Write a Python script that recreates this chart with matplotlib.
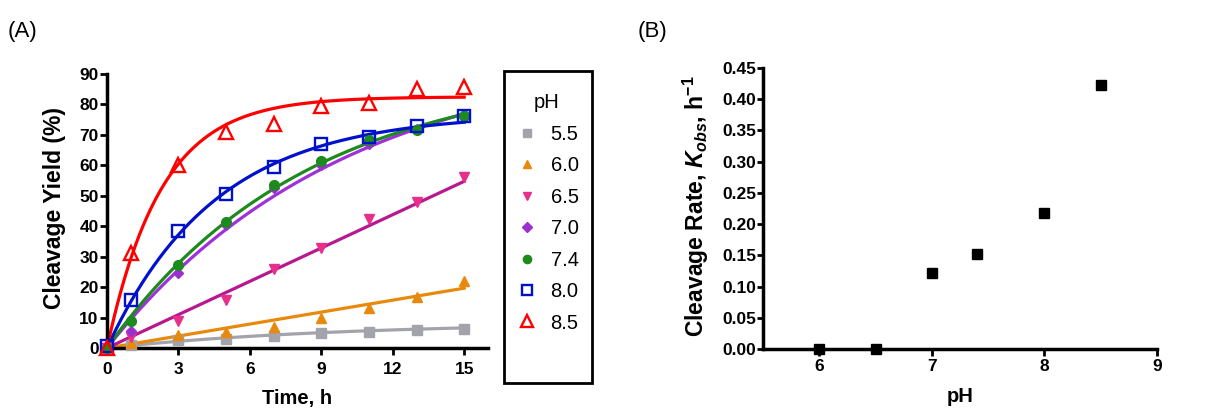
import numpy as np
import matplotlib
matplotlib.use("Agg")
import matplotlib.pyplot as plt
from matplotlib.patches import Rectangle

plt.rcParams['font.family'] = ['Liberation Sans', 'DejaVu Sans']
plt.rcParams['mathtext.fontset'] = 'custom'
plt.rcParams['mathtext.rm'] = 'Liberation Sans:bold'
plt.rcParams['mathtext.bf'] = 'Liberation Sans:bold'
plt.rcParams['mathtext.it'] = 'Liberation Sans:bold:italic'

# ---------------- data: panel A ----------------
time_h = [0, 1, 3, 5, 7, 9, 11, 13, 15]
ph_labels = ["5.5", "6.0", "6.5", "7.0", "7.4", "8.0", "8.5"]
y_55 = [0, 1.0, 2.5, 3.1, 3.9, 4.9, 5.4, 5.9, 6.4]
y_60 = [0, 1.5, 4.2, 5.4, 7.0, 10.0, 13.0, 16.9, 22.0]
y_65 = [0, 3.5, 8.9, 15.8, 26.1, 33.0, 42.4, 48.1, 56.1]
y_70 = [0, 5.5, 24.5, 40.5, 52.5, 60.0, 67.0, 72.0, 77.0]
y_74 = [0, 8.8, 27.2, 41.5, 53.6, 61.3, 68.4, 71.7, 76.1]
y_80 = [0.5, 15.7, 38.4, 50.5, 59.6, 67.0, 69.3, 72.8, 76.3]
y_85 = [0, 31.1, 60.2, 70.9, 73.5, 79.6, 80.5, 85.1, 85.6]

# fit parameters (one-phase association: plateau, k) or linear slope
fit_55 = ("assoc", 8.5, 0.10)
fit_60 = ("linear", 1.31)
fit_65 = ("linear", 3.65)
fit_70 = ("assoc", 99.0, 0.10)
fit_74 = ("assoc", 92.0, 0.12)
fit_80 = ("assoc", 77.0, 0.22)
fit_85 = ("assoc", 82.5, 0.44)

# ---------------- data: panel B ----------------
ph_b = [6.0, 6.5, 7.0, 7.4, 8.0, 8.5]
kobs = [0.0, 0.0, 0.1225, 0.152, 0.218, 0.422]

series = [
    (y_55, fit_55, dict(marker='s', color='#A3A3AB', mfc='#A3A3AB', ms=7), '#A3A3AB'),
    (y_60, fit_60, dict(marker='^', color='#E8890C', mfc='#E8890C', ms=7.5), '#E8890C'),
    (y_65, fit_65, dict(marker='v', color='#E8308A', mfc='#E8308A', ms=7.5), '#B8188E'),
    (y_70, fit_70, dict(marker='D', color='#9B2FD0', mfc='#9B2FD0', ms=5.5), '#A030D8'),
    (y_74, fit_74, dict(marker='o', color='#1C8A1C', mfc='#1C8A1C', ms=7), '#1C8A1C'),
    (y_80, fit_80, dict(marker='s', color='#0010CC', mfc='none', ms=9, mew=1.7), '#0010CC'),
    (y_85, fit_85, dict(marker='^', color='#FF0000', mfc='none', ms=10, mew=1.7), '#FF0000'),
]

fig = plt.figure(figsize=(12.05, 4.17), dpi=100)
axA = fig.add_axes([107/1205, 1-348/417, 381/1205, 274/417])
axB = fig.add_axes([763/1205, 1-349/417, 394/1205, 281/417])

tgrid = np.linspace(0, 15, 300)
handles = []
for ys, fit, mk, lc in series:
    if fit[0] == "assoc":
        yfit = fit[1] * (1 - np.exp(-fit[2] * tgrid))
    else:
        yfit = fit[1] * tgrid
    axA.plot(tgrid, yfit, color=lc, lw=2.3, zorder=2, clip_on=False)
    h, = axA.plot(time_h, ys, ls='none', clip_on=False, zorder=3, **mk)
    handles.append(h)

tick_font = dict(fontsize=12.5, fontweight='bold')
for ax in (axA, axB):
    for s in ('top', 'right'):
        ax.spines[s].set_visible(False)
    for s in ('left', 'bottom'):
        ax.spines[s].set_linewidth(2.5)
    ax.tick_params(width=2.0, length=5, direction='out')
    ax.set_facecolor('none')

axA.set_xlim(0, 16)
axA.set_ylim(0, 90)
axA.set_xticks([0, 3, 6, 9, 12, 15])
axA.set_yticks(range(0, 91, 10))
axA.set_xticklabels([str(v) for v in [0, 3, 6, 9, 12, 15]], **tick_font)
axA.set_yticklabels([str(v) for v in range(0, 91, 10)], **tick_font)
axA.tick_params(axis='x', pad=5)
axA.tick_params(axis='y', pad=1)
axA.set_xlabel("Time, h", fontsize=14.5, fontweight='bold')
axA.xaxis.set_label_coords(0.5, -0.150)
axA.set_ylabel("Cleavage Yield (%)", fontsize=16.5, fontweight='bold')
axA.yaxis.set_label_coords(-0.108, 0.511)

axB.plot(ph_b, kobs, ls='none', marker='s', color='black', ms=7.5, clip_on=False, zorder=3)
axB.set_xlim(5.5, 9)
axB.set_ylim(0, 0.45)
axB.set_xticks([6, 7, 8, 9])
axB.set_yticks(np.arange(0, 0.451, 0.05))
axB.set_xticklabels(["6", "7", "8", "9"], **tick_font)
axB.set_yticklabels(["%.2f" % v for v in np.arange(0, 0.451, 0.05)], **tick_font)
axB.tick_params(axis='x', pad=2)
axB.tick_params(axis='y', pad=1, length=4)
axB.set_xlabel("pH", fontsize=14.5, fontweight='bold')
axB.xaxis.set_label_coords(0.5, -0.135)
axB.set_ylabel(r"Cleavage Rate, $K_{obs}$, h$^{-1}$", fontsize=16.5, fontweight='bold')
axB.yaxis.set_label_coords(-0.132, 0.509)

fig.text(8/1205, 1-37/417, "(A)", fontsize=16)
fig.text(638/1205, 1-37/417, "(B)", fontsize=16)

# legend
fig.patches.append(Rectangle((504/1205, 1-383/417), 88/1205, 312/417, transform=fig.transFigure,
                             fill=False, lw=2, edgecolor='black'))
leg = fig.legend(handles, ph_labels, loc='upper center', bbox_to_anchor=(547/1205, 1-75/417),
                 frameon=False, title="pH", title_fontsize=14.5, fontsize=14.5,
                 labelspacing=0.62, handletextpad=0.55, handlelength=1.2, markerscale=0.85)

fig.savefig("out.png", dpi=100)
